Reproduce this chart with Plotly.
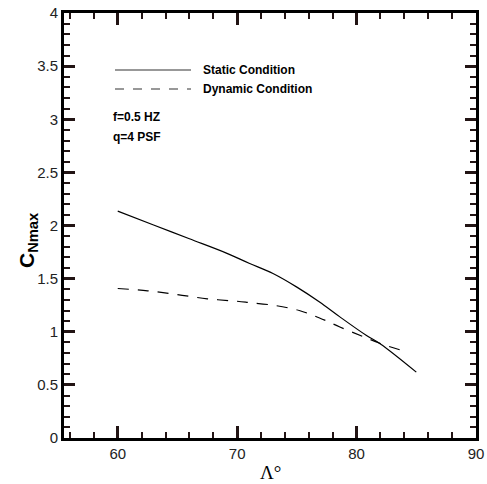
import plotly.graph_objects as go

# Data
static_x = [60, 63, 66, 69, 71, 73, 75, 76.9, 78.6, 80.8, 82, 85]
static_y = [2.135, 2.005, 1.875, 1.745, 1.645, 1.548, 1.42, 1.28, 1.14, 0.967, 0.885, 0.62]
dyn_x = [60, 62.5, 65, 67.5, 70, 71, 73, 75.2, 76.9, 78.6, 80.5, 82, 84.2]
dyn_y = [1.407, 1.385, 1.35, 1.31, 1.287, 1.275, 1.25, 1.20, 1.13, 1.045, 0.957, 0.889, 0.81]

series_names = ["Static Condition", "Dynamic Condition"]
notes = ["f=0.5 HZ", "q=4 PSF"]

FONT = "Arial, Liberation Sans, sans-serif"
TICK = "rgb(34,20,20)"

fig = go.Figure()
fig.add_trace(go.Scatter(x=static_x, y=static_y, mode="lines", name=series_names[0],
                         line=dict(color="black", width=1.2), line_shape="spline"))
fig.add_trace(go.Scatter(x=dyn_x, y=dyn_y, mode="lines", name=series_names[1],
                         line=dict(color="black", width=1.2, dash="11px,9px"), line_shape="spline"))

W, H = 487, 484
l, r, t, b = 64, 11, 13, 46
pw, ph = W - l - r, H - t - b


def px(xp):
    return (xp - l) / pw


def py(yp):
    return 1 - (yp - t) / ph


fig.add_shape(type="line", xref="paper", yref="paper", x0=px(115), x1=px(191), y0=py(70), y1=py(70),
              line=dict(color="#333", width=1.2))
fig.add_shape(type="line", xref="paper", yref="paper", x0=px(115), x1=px(191), y0=py(89), y1=py(89),
              line=dict(color="#333", width=1.2, dash="9px,9px"))
for txt, yy, xx in [(series_names[0], 70, 201), (series_names[1], 89, 201), (notes[0], 117, 111), (notes[1], 137, 111)]:
    fig.add_annotation(xref="paper", yref="paper", x=px(xx), y=py(yy), xanchor="left", yanchor="middle",
                       text="<b>" + txt + "</b>", showarrow=False,
                       font=dict(family=FONT, size=12, color="black"))

fig.add_annotation(xref="paper", yref="paper", x=px(270), y=py(473), xanchor="center", yanchor="middle",
                   text="Λ°", showarrow=False,
                   font=dict(family="Times New Roman, Liberation Serif, serif", size=19, color="black"))
fig.add_annotation(xref="paper", yref="paper", x=px(28), y=py(240), xanchor="center", yanchor="middle",
                   text="<b>C<sub>Nmax</sub></b>", textangle=-90, showarrow=False,
                   font=dict(family=FONT, size=21, color="black"))

axis_common = dict(showgrid=False, zeroline=False, showline=True, linecolor="black", linewidth=3,
                   mirror="allticks", ticks="inside", tickcolor=TICK, tickwidth=3, automargin=False,
                   tickfont=dict(family=FONT, size=15, color="#222"))

fig.update_xaxes(range=[55.5, 90], tick0=60, dtick=10, ticklen=12,
                 minor=dict(dtick=2, tick0=56, ticks="inside", ticklen=6, tickwidth=1.5, tickcolor=TICK),
                 **axis_common)
fig.update_yaxes(range=[0, 4], tick0=0, dtick=0.5, ticklen=11,
                 minor=dict(dtick=0.1, ticks="inside", ticklen=6, tickwidth=1.5, tickcolor=TICK),
                 **axis_common)

fig.update_layout(width=W, height=H, margin=dict(l=l, r=r, t=t, b=b, pad=0),
                  paper_bgcolor="white", plot_bgcolor="white", showlegend=False)

fig.write_html("out.html", config={"displayModeBar": False},
               post_script="document.body.style.margin='0';document.body.style.padding='0';")
